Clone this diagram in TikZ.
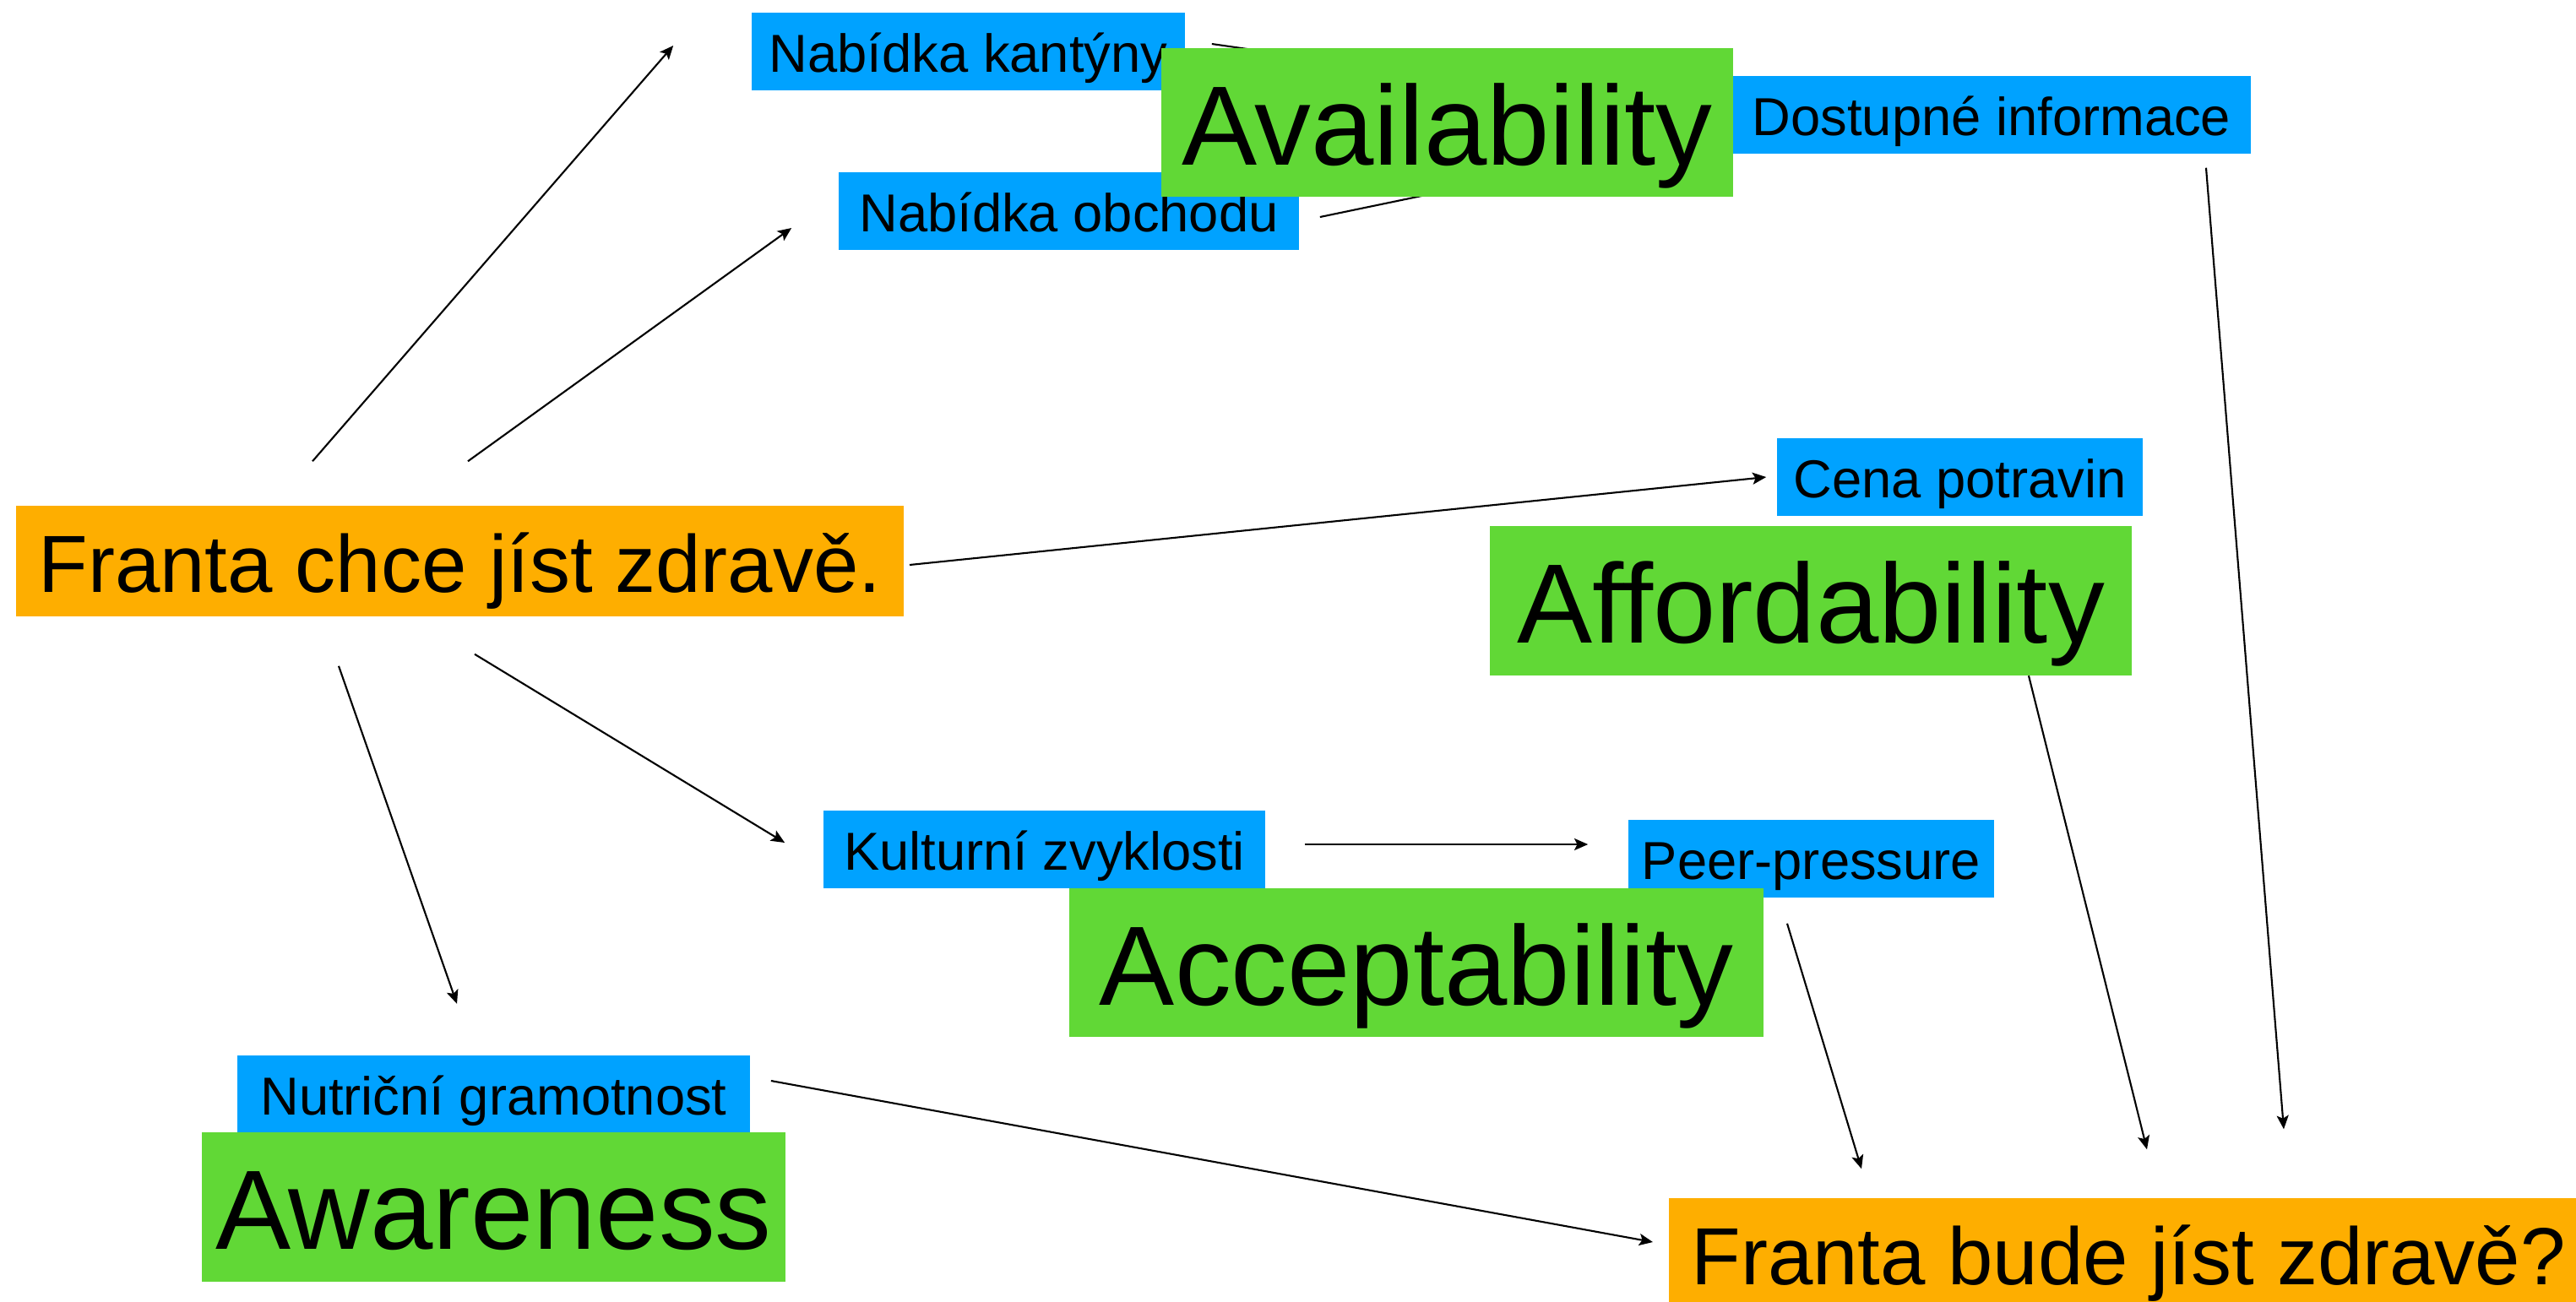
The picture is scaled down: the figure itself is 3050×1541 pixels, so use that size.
\documentclass[tikz,border=0pt]{standalone}
\usepackage{fontspec}
\setmainfont{Liberation Sans}
\usetikzlibrary{arrows.meta,backgrounds}

\definecolor{factorblue}{RGB}{0,162,255}
\definecolor{dimgreen}{RGB}{97,216,54}
\definecolor{goalorange}{RGB}{254,174,0}

\begin{document}
\begin{tikzpicture}[x=0.01cm, y=-0.01cm,
  factor/.style={fill=factorblue, inner sep=0pt, minimum height=0.92cm,
    text height=0.6cm, text depth=0.12cm,
    font=\fontsize{18pt}{21pt}\selectfont},
  dimension/.style={fill=dimgreen, inner sep=0pt, minimum height=1.76cm,
    text height=1.2cm, text depth=0.2cm,
    font=\fontsize{38pt}{44pt}\selectfont},
  goal/.style={fill=goalorange, inner sep=0pt, minimum height=1.31cm,
    text height=0.9cm, text depth=0.17cm,
    font=\fontsize{27.3pt}{32pt}\selectfont},
  infl/.style={-{Stealth[length=4.6pt,width=4pt,inset=1pt]}, line width=0.6pt}]
  \useasboundingbox (0,0) rectangle (3050,1541);

  % factors
  \node[factor, minimum width=5.13cm] (canteen) at (1146.5,61) {Nabídka kantýny};
  \node[factor, minimum width=5.45cm] (shop) at (1265.5,250) {Nabídka obchodu};
  \node[factor, minimum width=6.14cm] (infoavail) at (2358,136) {Dostupné informace};
  \node[factor, minimum width=4.33cm] (price) at (2320.5,565) {Cena potravin};
  \node[factor, minimum width=5.23cm] (habits) at (1236.5,1006) {Kulturní zvyklosti};
  \node[factor, minimum width=4.33cm] (peers) at (2144.5,1017) {Peer-pressure};
  \node[factor, minimum width=6.07cm] (literacy) at (584.5,1296.5) {Nutriční gramotnost};

  % dimensions
  \node[dimension, minimum width=6.77cm] (availability) at (1713.5,145) {Availability};
  \node[dimension, minimum width=7.60cm] (affordability) at (2144,711.5) {Affordability};
  \node[dimension, minimum width=8.22cm] (acceptability) at (1677,1140) {Acceptability};
  \node[dimension, minimum width=6.91cm] (awareness) at (584.5,1429.5) {Awareness};

  % start and goal
  \node[goal, minimum width=10.51cm] (wants) at (544.5,664.5) {Franta chce jíst zdravě.};
  \node[goal, minimum width=10.88cm] (willeat) at (2520,1484.5) {Franta bude jíst zdravě?};

  \begin{scope}[on background layer]
    \draw[infl] ([shift={(-174.5,-52)}]wants.north) -- ([shift={(-92,-7)}]canteen.west);
    \draw[infl] ([shift={(9.5,-52)}]wants.north) -- ([shift={(-55,20)}]shop.west);
    \draw[infl] ([shift={(6,4.5)}]wants.east) -- ([shift={(-12,0)}]price.west);
    \draw[infl] ([shift={(17.5,44)}]wants.south) -- ([shift={(-45,-8)}]habits.west);
    \draw[infl] ([shift={(-143.5,58)}]wants.south) -- ([shift={(-43.5,-61)}]literacy.north);
    \draw[infl] ([shift={(31,-9)}]canteen.east) -- ([shift={(-6,3)}]infoavail.west);
    \draw[infl] ([shift={(24,7)}]shop.east) -- ([shift={(-6,21)}]infoavail.west);
    \draw[infl] ([shift={(46,-6)}]habits.east) -- ([shift={(-47,-17)}]peers.west);
    \draw[infl] ([shift={(24,-16.5)}]literacy.east) -- ([shift={(-18,-13.5)}]willeat.west);
    \draw[infl] ([shift={(258,0)}]affordability.south) -- ([shift={(22,-57)}]willeat.north);
    \draw[infl] ([shift={(254,16)}]infoavail.south) -- ([shift={(184,-81)}]willeat.north);
    \draw[infl] ([shift={(-28.5,30)}]peers.south) -- ([shift={(-316,-34)}]willeat.north);
  \end{scope}
\end{tikzpicture}
\end{document}
